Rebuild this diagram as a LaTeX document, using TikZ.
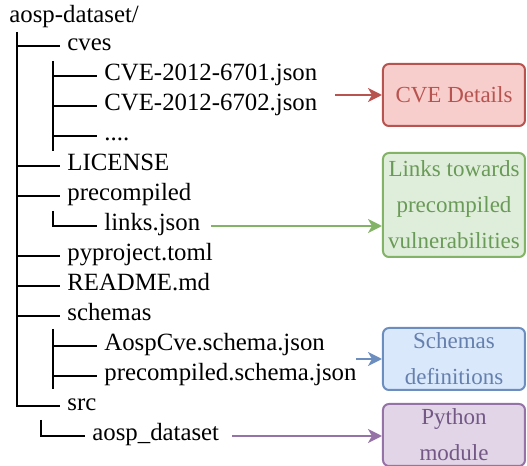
\documentclass[tikz,border=0pt]{standalone}
\usepackage{fontspec}
\setmainfont{Liberation Serif}
\usepackage{xcolor}
\usetikzlibrary{positioning, arrows.meta, calc}
\definecolor{cvefill}{HTML}{F8CECC}
\definecolor{cveline}{HTML}{B85450}
\definecolor{linkfill}{HTML}{DFEEDA}
\definecolor{linkline}{HTML}{82B366}
\definecolor{linktext}{HTML}{6A9A57}
\definecolor{schfill}{HTML}{DAE8FC}
\definecolor{schline}{HTML}{6C8EBF}
\definecolor{schtext}{HTML}{6580AC}
\definecolor{pyfill}{HTML}{E1D5E7}
\definecolor{pyline}{HTML}{9673A6}
\definecolor{pytext}{HTML}{735886}

\begin{document}
\begin{tikzpicture}[
    x=0.5pt, y=-0.5pt,
    entry/.style={anchor=west, inner xsep=3.5pt, inner ysep=0pt,
                  text height=0.7em, text depth=0.25em,
                  font=\fontsize{12.4}{15}\selectfont},
    tree/.style={line width=1pt},
    infobox/.style={draw, rounded corners=3pt, line width=1pt, align=center,
                    minimum width=71pt, minimum height=31pt, inner sep=1pt,
                    font=\fontsize{11.5}{18}\selectfont},
    arr/.style={-{Stealth[length=7pt, width=7pt, inset=2pt]}, line width=1pt},
]
\useasboundingbox (0,0) rectangle (527,466);

% Root and first level
\node[entry] (root) at (2,18) {aosp-dataset/};
\node[entry] (cves) at (60,46) {cves};
\node[entry] (license) at (60,166) {LICENSE};
\node[entry] (precomp) at (60,196) {precompiled};
\node[entry] (pyproj) at (60,256) {pyproject.toml};
\node[entry] (readme) at (60,286) {README.md};
\node[entry] (schemas) at (60,316) {schemas};
\node[entry] (src) at (60,406) {src};

% Second level
\node[entry] (cveA) at (97,76) {CVE-2012-6701.json};
\node[entry] (cveB) at (97,106) {CVE-2012-6702.json};
\node[entry] (cvedots) at (97,136) {....};
\node[entry] (links) at (97,226) {links.json};
\node[entry] (aospsch) at (97,346) {AospCve.schema.json};
\node[entry] (precsch) at (97,376) {precompiled.schema.json};
\node[entry] (pkg) at (85,436) {aosp\_dataset};

% Tree lines
\draw[tree] (17,32) -- (17,406) -- (src.west);
\foreach \n in {cves, license, precomp, pyproj, readme, schemas}
  \draw[tree] (17,0 |- \n.west) -- (\n.west);
\draw[tree] (53,61) -- (53,151);
\foreach \n in {cveA, cveB, cvedots}
  \draw[tree] (53,0 |- \n.west) -- (\n.west);
\draw[tree] (53,211) -- (53,226) -- (links.west);
\draw[tree] (53,329) -- (53,389);
\foreach \n in {aospsch, precsch}
  \draw[tree] (53,0 |- \n.west) -- (\n.west);
\draw[tree] (41,420) -- (41,436) -- (pkg.west);

% Description boxes
\node[infobox, fill=cvefill, draw=cveline, text=cveline] (cvebox) at (454,95) {CVE Details};
\node[infobox, fill=linkfill, draw=linkline, text=linktext, minimum height=52pt] (linkbox) at (454,205)
  {Links towards\\precompiled\\vulnerabilities};
\node[infobox, fill=schfill, draw=schline, text=schtext] (schbox) at (454,359) {Schemas\\definitions};
\node[infobox, fill=pyfill, draw=pyline, text=pytext] (pybox) at (454,435) {Python\\module};

% Arrows
\coordinate (cveout) at (335,95);
\coordinate (linkout) at (211,226);
\coordinate (schout) at (356,359);
\coordinate (pyout) at (232,436);
\draw[arr, cveline] (cveout) -- (cvebox.west);
\draw[arr, linkline] (linkout) -- (linkout -| linkbox.west);
\draw[arr, schline] (schout) -- (schbox.west);
\draw[arr, pyline] (pyout) -- (pyout -| pybox.west);

\end{tikzpicture}
\end{document}
